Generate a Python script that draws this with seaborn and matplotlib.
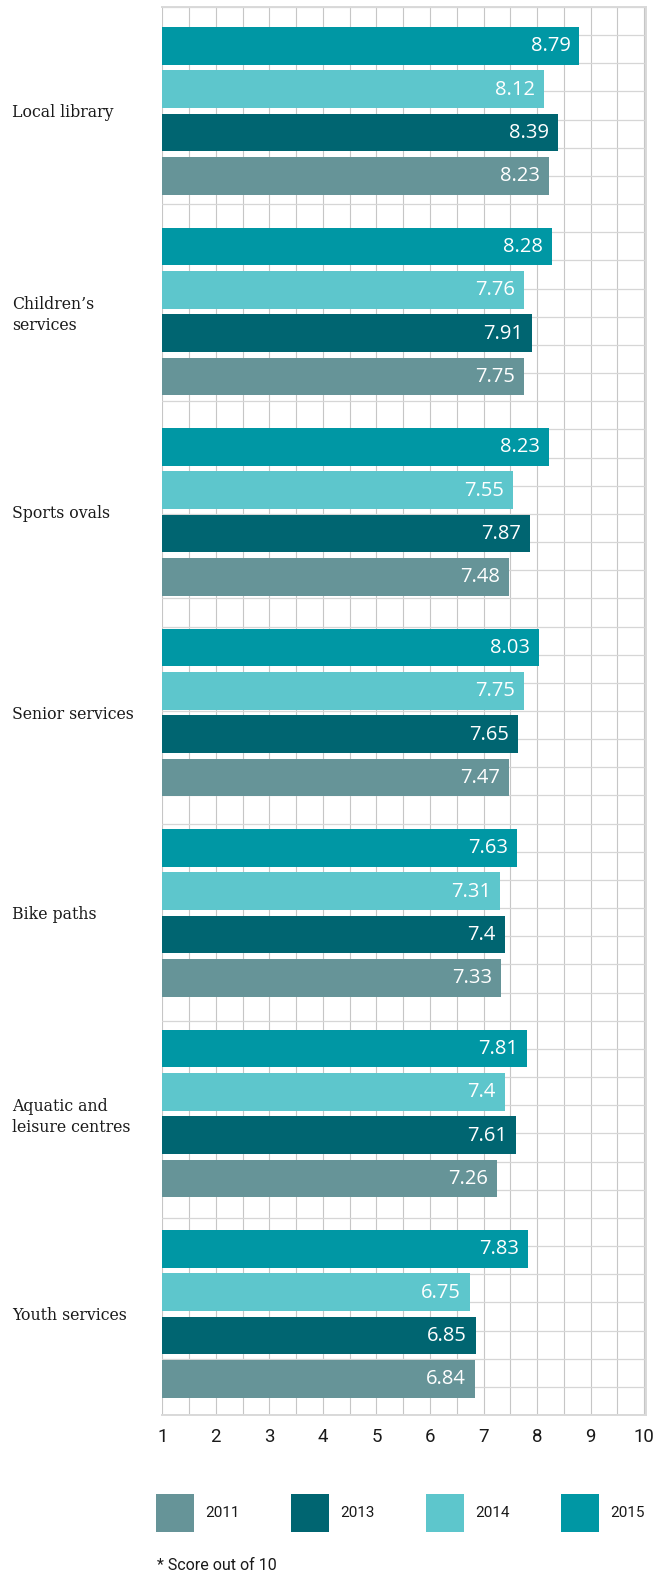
import numpy as np
import pandas as pd
import matplotlib
matplotlib.use("Agg")
import matplotlib.pyplot as plt
import seaborn as sns
from matplotlib.patches import Rectangle

# Satisfaction scores (out of 10) by service and survey year
services = [
    "Local library",
    "Children\u2019s\nservices",
    "Sports ovals",
    "Senior services",
    "Bike paths",
    "Aquatic and\nleisure centres",
    "Youth services",
]
scores_2011 = [8.23, 7.75, 7.48, 7.47, 7.33, 7.26, 6.84]
scores_2013 = [8.39, 7.91, 7.87, 7.65, 7.40, 7.61, 6.85]
scores_2014 = [8.12, 7.76, 7.55, 7.75, 7.31, 7.40, 6.75]
scores_2015 = [8.79, 8.28, 8.23, 8.03, 7.63, 7.81, 7.83]

years = ["2011", "2013", "2014", "2015"]
year_colors = {"2011": "#669498", "2013": "#006571", "2014": "#5dc6cc", "2015": "#0097a4"}
bar_order = ["2015", "2014", "2013", "2011"]
x_ticks = [1, 2, 3, 4, 5, 6, 7, 8, 9, 10]
footnote = "* Score out of 10"

by_year = {"2011": scores_2011, "2013": scores_2013, "2014": scores_2014, "2015": scores_2015}
df = pd.DataFrame(
    [(s, y, v) for y in years for s, v in zip(services, by_year[y])],
    columns=["service", "year", "score"],
)

sns.set_theme(style="white")
plt.rcParams["font.family"] = ["Roboto", "DejaVu Sans"]

W, H = 668, 1575
fig = plt.figure(figsize=(W / 100, H / 100), dpi=100)
ax_left, ax_right, ax_top, ax_bottom = 162.3, 646, 7, 1415
ax = fig.add_axes([ax_left / W, 1 - ax_bottom / H, (ax_right - ax_left) / W, (ax_bottom - ax_top) / H])

sns.barplot(
    data=df, y="service", x="score", hue="year", hue_order=bar_order,
    order=services, palette=year_colors, orient="h", width=0.864, gap=0.13,
    saturation=1, legend=False, ax=ax, errorbar=None, linewidth=0, edgecolor="none",
)

y_top, y_bottom = -0.518, 6.504
ax.set_ylim(y_bottom, y_top)
ax.set_xlim(1, 10.034)

# Value labels inside the bar ends
for year, container in zip(bar_order, ax.containers):
    for patch, val in zip(container.patches, by_year[year]):
        yc = patch.get_y() + patch.get_height() / 2
        ax.annotate(f"{val:g}", xy=(val, yc), xytext=(-9, -0.5), textcoords="offset pixels",
                    ha="right", va="center", color="white", fontsize=14.5,
                    family=["Open Sans", "DejaVu Sans"])

# Grid: half-unit verticals, fine horizontals
ax.set_xticks(x_ticks)
ax.set_xticklabels([str(t) for t in x_ticks], fontsize=13.4, color="#1a1a1a")
ax.set_xticks(np.arange(1.5, 10, 1.0), minor=True)
ax.set_yticks(np.linspace(y_top, y_bottom, 51), minor=True)
ax.set_axisbelow(True)
ax.xaxis.grid(True, which="both", color="#c6c6c6", lw=0.8)
ax.yaxis.grid(True, which="minor", color="#d6d6d6", lw=0.9)
ax.yaxis.grid(False, which="major")
ax.tick_params(axis="x", which="both", length=0, pad=9)
ax.tick_params(axis="y", which="both", length=0, pad=108.2)
for lbl in ax.get_yticklabels():
    lbl.set_ha("left")
    lbl.set_family(["DejaVu Serif"])
    lbl.set_fontsize(11.3)
    lbl.set_color("#1a1a1a")
    lbl.set_linespacing(1.3)
ax.set_xlabel("")
ax.set_ylabel("")
for side in ["top", "right", "bottom"]:
    ax.spines[side].set_color("#d9d9d9")
    ax.spines[side].set_linewidth(1.4)
ax.spines["left"].set_visible(False)

# Legend row
legend_x = [156, 291, 426, 561]
for year, lx in zip(years, legend_x):
    fig.add_artist(Rectangle((lx / W, 1 - 1532 / H), 38 / W, 38 / H,
                             transform=fig.transFigure, color=year_colors[year], lw=0))
    fig.text((lx + 49) / W, 1 - 1513 / H, year, fontsize=11, color="#1a1a1a",
             va="center", ha="left")

fig.text(157 / W, 1 - 1566 / H, footnote, fontsize=11.5, color="#1a1a1a",
         va="center", ha="left")

fig.savefig("out.png", dpi=100, facecolor="white")
